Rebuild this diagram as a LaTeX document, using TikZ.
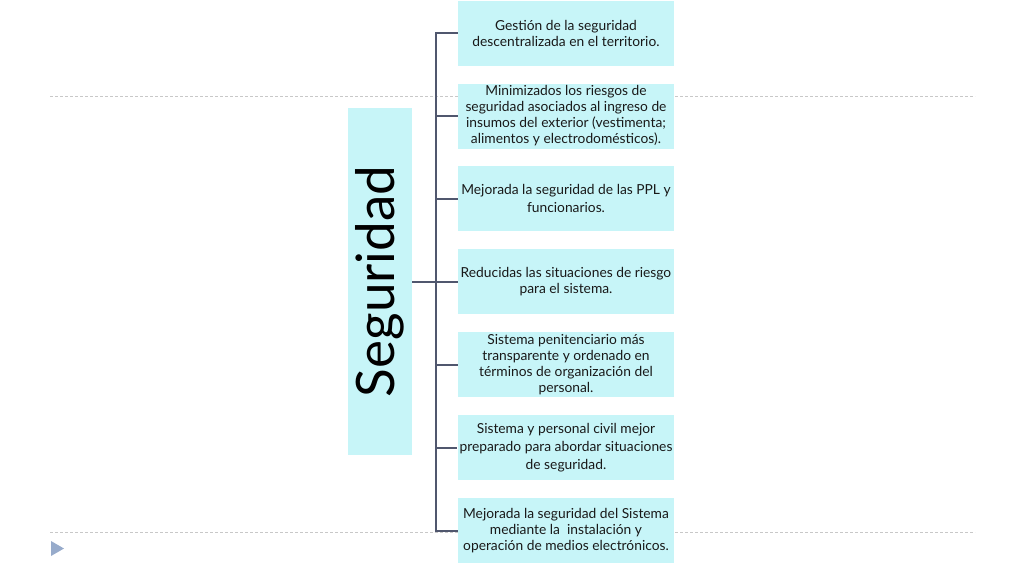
\documentclass[tikz,border=0pt]{standalone}
\usepackage{fontspec}
\setmainfont{Lato}
\definecolor{boxfill}{RGB}{199,245,248}
\definecolor{treeline}{RGB}{80,87,110}
\definecolor{dashgray}{RGB}{200,200,200}
\definecolor{arrowblue}{RGB}{151,171,203}
\tikzset{
  goalbox/.style={fill=boxfill,minimum width=216pt,minimum height=65pt,
    align=center,inner sep=2pt,font=\fontsize{13.8}{16}\selectfont,text=black!90},
  loose/.style={font=\fontsize{13.8}{18}\selectfont},
  branch/.style={draw=treeline,line width=2pt}
}
\begin{document}
\begin{tikzpicture}[x=1pt,y=-1pt]
    \useasboundingbox (0,0) rectangle (1024,576);
    \draw [dashgray,line width=1pt,dash pattern=on 3pt off 2pt] (50,96) -- (975,96) (50,532) -- (975,532);
    \fill [arrowblue] (51,541) -- (64,548.5) -- (51,556) -- cycle;
    \node [fill=boxfill,rotate=90,minimum width=347pt,minimum height=64pt,font=\fontsize{53}{55}\selectfont] (seg) at (380,281.5) {Seguridad};
    \node [goalbox] (g1) at (566,33) {Gestión de la seguridad\\descentralizada en el territorio.};
    \node [goalbox] (g2) at (566,116) {Minimizados los riesgos de\\seguridad asociados al ingreso de\\insumos del exterior (vestimenta;\\alimentos y electrodomésticos).};
    \node [goalbox,loose] (g3) at (566,198.5) {Mejorada la seguridad de las PPL y\\funcionarios.};
    \node [goalbox] (g4) at (566,281.5) {Reducidas las situaciones de riesgo\\para el sistema.};
    \node [goalbox] (g5) at (566,364.5) {Sistema penitenciario más\\transparente y ordenado en\\términos de organización del\\personal.};
    \node [goalbox,loose] (g6) at (566,447.5) {Sistema y personal civil mejor\\preparado para abordar situaciones\\de seguridad.};
    \node [goalbox] (g7) at (566,530.5) {Mejorada la seguridad del Sistema\\mediante la\ \ instalación y\\operación de medios electrónicos.};
    \coordinate (fork) at (436,281.5);
    \draw [branch] (seg.south) -- (fork);
    \foreach \i in {1,...,7}
      \draw [branch] (fork) |- (g\i.west);
  \end{tikzpicture}
\end{document}
